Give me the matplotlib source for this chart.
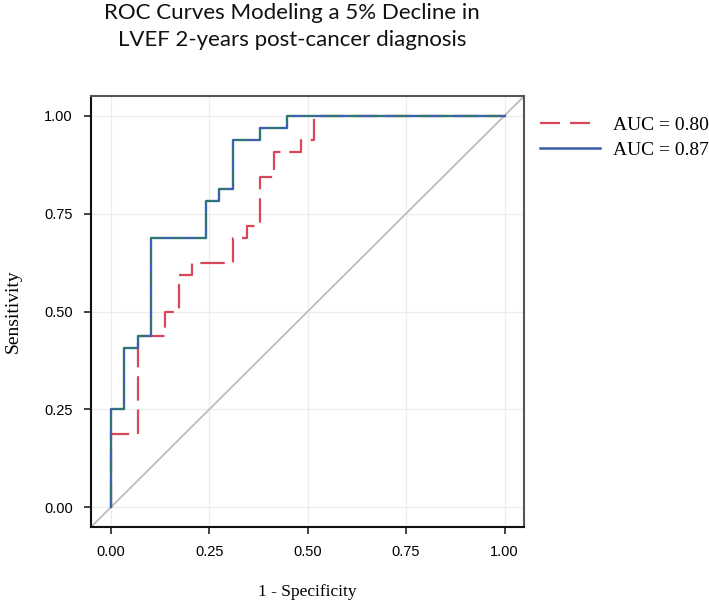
import matplotlib

matplotlib.use("Agg")
import matplotlib.pyplot as plt
from matplotlib.lines import Line2D

# ROC step points (1 - specificity, sensitivity), 29 negatives / 32 positives
FPR_087 = [0.0, 0.0, 1/29, 1/29, 2/29, 2/29, 3/29, 3/29, 7/29, 7/29, 8/29, 8/29,
           9/29, 9/29, 11/29, 11/29, 13/29, 13/29, 1.0]
TPR_087 = [0.0, 8/32, 8/32, 13/32, 13/32, 14/32, 14/32, 22/32, 22/32, 25/32, 25/32, 26/32,
           26/32, 30/32, 30/32, 31/32, 31/32, 1.0, 1.0]

FPR_080 = [0.0, 0.0, 2/29, 2/29, 4/29, 4/29, 5/29, 5/29, 6/29, 6/29, 9/29, 9/29,
           10/29, 10/29, 11/29, 11/29, 12/29, 12/29, 14/29, 14/29, 15/29, 15/29, 1.0]
TPR_080 = [0.0, 6/32, 6/32, 14/32, 14/32, 16/32, 16/32, 19/32, 19/32, 20/32, 20/32, 22/32,
           22/32, 23/32, 23/32, 27/32, 27/32, 29/32, 29/32, 30/32, 30/32, 1.0, 1.0]

LABELS = ["AUC = 0.80", "AUC = 0.87"]
TICKS = [0.0, 0.25, 0.5, 0.75, 1.0]
TITLE = "ROC Curves Modeling a 5% Decline in\nLVEF 2-years post-cancer diagnosis"

RED = "#d9475a"
BLUE = "#3a5aa8"
TEAL = "#2f7478"
SERIF = ["Liberation Serif", "DejaVu Serif"]
NARROW = ["Liberation Sans Narrow", "Liberation Sans", "DejaVu Sans"]

fig = plt.figure(figsize=(7.09, 6.05), dpi=100)
ax = fig.add_axes([0.1284, 0.1289, 0.611, 0.7124])

ax.plot([-0.05, 1.05], [-0.05, 1.05], color="#b8b8b8", lw=1.2, zorder=1)
ax.plot(FPR_080, TPR_080, color=RED, lw=1.6, dashes=(11, 4), zorder=3)
ax.plot(FPR_087, TPR_087, color=TEAL, lw=1.7, zorder=4)
ax.plot(FPR_087, TPR_087, color="#4a50e0", lw=1.1, dashes=(6, 9), alpha=0.75, zorder=5)

ax.set_xlim(-0.05, 1.05)
ax.set_ylim(-0.05, 1.05)
ax.set_xticks(TICKS)
ax.set_yticks(TICKS)
ax.set_xticklabels([f"{t:.2f}" for t in TICKS], family=NARROW, fontsize=10.5)
ax.set_yticklabels([f"{t:.2f}" for t in TICKS], family=NARROW, fontsize=10.5)
ax.tick_params(direction="out", length=5, width=1.2, color="#222", pad=8)
ax.grid(color="#ececec", lw=0.9)
ax.set_axisbelow(True)
for s in ["left", "bottom"]:
    ax.spines[s].set_linewidth(1.5)
    ax.spines[s].set_color("#111")
for s in ["top", "right"]:
    ax.spines[s].set_linewidth(1.5)
    ax.spines[s].set_color("#555")

ax.set_xlabel("1 - Specificity", family=SERIF, fontsize=12.5, labelpad=18)
ax.set_ylabel("Sensitivity", family=SERIF, fontsize=14, labelpad=16)

handles = [Line2D([], [], color=RED, lw=1.6, dashes=(9, 4.5)),
           Line2D([], [], color=BLUE, lw=1.8)]
fig.legend(handles, LABELS, loc="upper left", bbox_to_anchor=(0.7616, 0.808),
           frameon=False, prop={"family": SERIF, "size": 14}, handlelength=3.1,
           handletextpad=0.67, labelspacing=0.38, borderpad=0, borderaxespad=0)

fig.text(0.412, 0.995, TITLE, ha="center", va="top", fontsize=16, family=["Lato", "DejaVu Sans"],
         linespacing=1.45, color="#111")

fig.savefig("out.png", dpi=100)
